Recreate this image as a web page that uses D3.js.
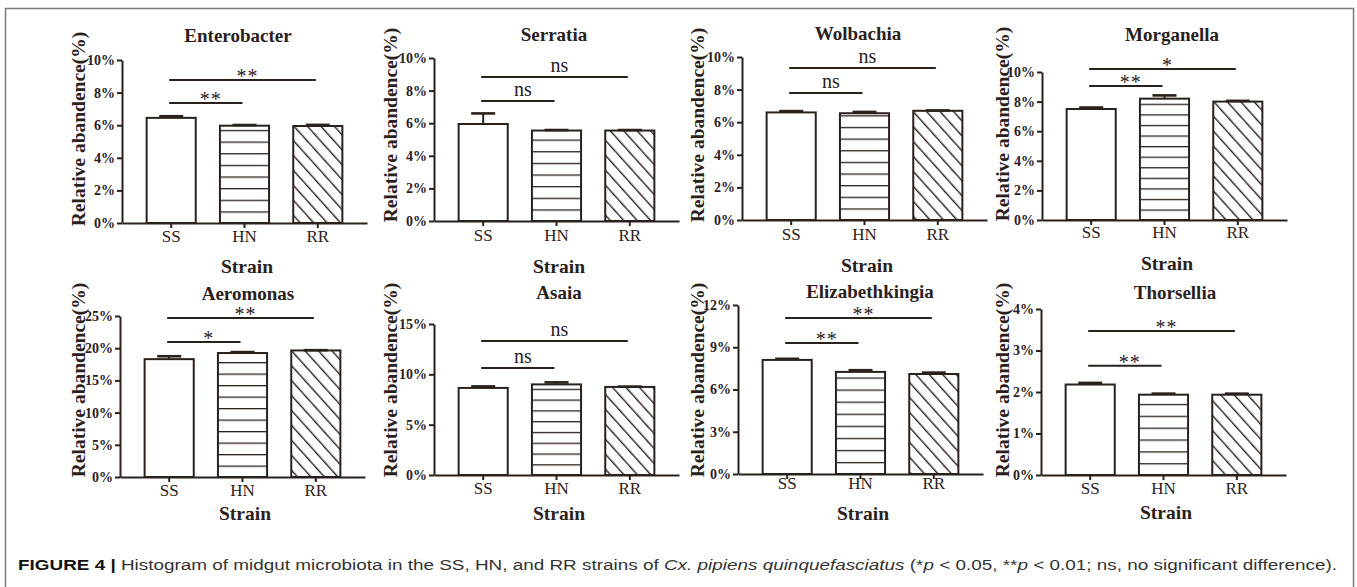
<!DOCTYPE html>
<html>
<head>
<meta charset="utf-8">
<script src="https://cdn.jsdelivr.net/npm/d3@7/dist/d3.min.js"></script>
<style>
  body { margin: 0; background: #fff; }
  svg { display: block; }
</style>
</head>
<body>
<div id="hook"></div>
<script>
// values (relative abundance, %)
var genera = ["Enterobacter", "Serratia", "Wolbachia", "Morganella", "Aeromonas", "Asaia", "Elizabethkingia", "Thorsellia"];
var strains = ["SS", "HN", "RR"];
var meanSS = [6.45, 5.95, 6.6, 7.5, 18.3, 8.65, 8.1, 2.18];
var meanHN = [5.97, 5.55, 6.55, 8.2, 19.25, 9.0, 7.25, 1.935];
var meanRR = [5.95, 5.55, 6.7, 8.0, 19.65, 8.75, 7.1, 1.935];
var errSS = [0.1, 0.65, 0.08, 0.1, 0.45, 0.15, 0.08, 0.04];
var errHN = [0.04, 0.03, 0.08, 0.22, 0.15, 0.2, 0.12, 0.025];
var errRR = [0.07, 0.03, 0.02, 0.05, 0.04, 0.03, 0.1, 0.025];
var yMax = [10, 10, 10, 10, 25, 15, 12, 4];
var yStep = [2, 2, 2, 2, 5, 5, 3, 1];
var sigHN = ["**", "ns", "ns", "**", "*", "ns", "**", "**"];
var sigRR = ["**", "ns", "ns", "*", "**", "ns", "**", "**"];
var sigHNAt = [7.36, 7.36, 7.79, 9.05, 20.96, 10.63, 9.3, 2.63];
var sigRRAt = [8.77, 8.83, 9.33, 10.2, 24.7, 13.3, 11.08, 3.47];

// panel placement
var layout = [
    {ax: 122, top: 60, bot: 223, tx: 238, ty: 42, lx: 78, ly: 129, cy: 242, sy: 273},
    {ax: 434, top: 58, bot: 221, tx: 554, ty: 41, lx: 390, ly: 125, cy: 241, sy: 273},
    {ax: 742, top: 57, bot: 220, tx: 858, ty: 40, lx: 697, ly: 125, cy: 240, sy: 272},
    {ax: 1042, top: 72, bot: 220, tx: 1172, ty: 41, lx: 1002, ly: 124, cy: 238, sy: 270},
    {ax: 120, top: 316, bot: 477, tx: 248, ty: 300, lx: 78, ly: 380, cy: 496, sy: 520},
    {ax: 434, top: 324, bot: 475, tx: 559, ty: 299, lx: 390, ly: 380, cy: 494, sy: 520},
    {ax: 738, top: 305, bot: 474, tx: 870, ty: 298, lx: 697, ly: 380, cy: 489, sy: 520},
    {ax: 1041, top: 309, bot: 475, tx: 1175, ty: 299, lx: 1002, ly: 380, cy: 494, sy: 519}
];

var w = 1357, h = 587;
var ink = "#2a211d";
var serif = "'Liberation Serif', 'Times New Roman', serif";

var svg = d3.select("#hook").append("svg")
    .attr("width", w)
    .attr("height", h);

svg.append("rect")
    .attr("x", 5.5).attr("y", 8.5)
    .attr("width", 1348).attr("height", 600)
    .attr("fill", "#fff")
    .attr("stroke", "#7a7a7a")
    .attr("stroke-width", 1.5);

var defs = svg.append("defs");

genera.forEach(function (g, i) {
    var L = layout[i];
    var vals = [meanSS[i], meanHN[i], meanRR[i]];
    var errs = [errSS[i], errHN[i], errRR[i]];

    var x = d3.scaleBand()
        .domain(strains)
        .range([L.ax, L.ax + 245])
        .paddingInner(0.33)
        .paddingOuter(0.336);
    var y = d3.scaleLinear()
        .domain([0, yMax[i]])
        .range([L.bot, L.top]);

    // hatch patterns, anchored on the baseline
    var hz = defs.append("pattern")
        .attr("id", "hz" + i)
        .attr("patternUnits", "userSpaceOnUse")
        .attr("x", 0).attr("y", L.bot)
        .attr("width", 10).attr("height", (L.bot - L.top) / 14);
    hz.append("rect").attr("width", 10).attr("height", 20).attr("fill", "#fff");
    hz.append("line")
        .attr("x1", 0).attr("x2", 10).attr("y1", 0.6).attr("y2", 0.6)
        .attr("stroke", ink).attr("stroke-width", 1.4);

    var dg = defs.append("pattern")
        .attr("id", "dg" + i)
        .attr("patternUnits", "userSpaceOnUse")
        .attr("x", x("RR")).attr("y", L.bot)
        .attr("width", 10).attr("height", 10)
        .attr("patternTransform", "rotate(-42)");
    dg.append("rect").attr("width", 10).attr("height", 10).attr("fill", "#fff");
    dg.append("line")
        .attr("x1", 0.7).attr("x2", 0.7).attr("y1", 0).attr("y2", 10)
        .attr("stroke", ink).attr("stroke-width", 1.4);

    var fills = ["#fff", "url(#hz" + i + ")", "url(#dg" + i + ")"];
    var p = svg.append("g");

    // bars
    p.selectAll("rect.bar")
        .data(vals)
        .enter()
        .append("rect")
        .attr("class", "bar")
        .attr("x", function (d, j) { return x(strains[j]); })
        .attr("y", function (d) { return y(d); })
        .attr("width", x.bandwidth())
        .attr("height", function (d) { return L.bot - y(d); })
        .attr("fill", function (d, j) { return fills[j]; })
        .attr("stroke", ink)
        .attr("stroke-width", 2);

    // error bars (upper only)
    var eb = p.selectAll("g.err")
        .data(vals)
        .enter()
        .append("g")
        .attr("class", "err");
    eb.append("line")
        .attr("x1", function (d, j) { return x(strains[j]) + x.bandwidth() / 2; })
        .attr("x2", function (d, j) { return x(strains[j]) + x.bandwidth() / 2; })
        .attr("y1", function (d) { return y(d); })
        .attr("y2", function (d, j) { return y(d + errs[j]); })
        .attr("stroke", ink).attr("stroke-width", 2);
    eb.append("line")
        .attr("x1", function (d, j) { return x(strains[j]) + x.bandwidth() / 2 - 12; })
        .attr("x2", function (d, j) { return x(strains[j]) + x.bandwidth() / 2 + 12; })
        .attr("y1", function (d, j) { return y(d + errs[j]); })
        .attr("y2", function (d, j) { return y(d + errs[j]); })
        .attr("stroke", ink).attr("stroke-width", 2.6);

    // axes
    var ya = p.append("g")
        .attr("transform", "translate(" + L.ax + ",0)")
        .call(d3.axisLeft(y)
            .tickValues(d3.range(0, yMax[i] + 0.001, yStep[i]))
            .tickSize(5).tickSizeOuter(0).tickPadding(2)
            .tickFormat(function (d) { return d + "%"; }));
    ya.select(".domain").attr("stroke", ink).attr("stroke-width", 2);
    ya.selectAll(".tick line").attr("stroke", ink).attr("stroke-width", 2);
    ya.selectAll(".tick text")
        .attr("fill", ink)
        .style("font-family", serif)
        .style("font-size", "14px")
        .style("font-weight", "bold");

    var xa = p.append("g")
        .attr("transform", "translate(0," + L.bot + ")")
        .call(d3.axisBottom(x).tickSize(5).tickSizeOuter(0).tickPadding(L.cy - L.bot - 17));
    xa.select(".domain").attr("stroke", ink).attr("stroke-width", 2);
    xa.selectAll(".tick line").attr("stroke", ink).attr("stroke-width", 2);
    xa.selectAll(".tick text")
        .attr("fill", ink)
        .style("font-family", serif)
        .style("font-size", "17px");

    // significance brackets
    var sig = [
        {to: "HN", at: sigHNAt[i], label: sigHN[i]},
        {to: "RR", at: sigRRAt[i], label: sigRR[i]}
    ];
    var half = x.bandwidth() / 2;
    p.selectAll("line.sig")
        .data(sig)
        .enter()
        .append("line")
        .attr("class", "sig")
        .attr("x1", x("SS") + half - 2)
        .attr("x2", function (d) { return x(d.to) + half - 2; })
        .attr("y1", function (d) { return y(d.at); })
        .attr("y2", function (d) { return y(d.at); })
        .attr("stroke", ink).attr("stroke-width", 2);
    p.selectAll("text.sig")
        .data(sig)
        .enter()
        .append("text")
        .attr("class", "sig")
        .attr("x", function (d) { return (x("SS") + x(d.to)) / 2 + half + 3; })
        .attr("y", function (d) { return y(d.at) + (d.label === "ns" ? -5 : 3); })
        .attr("text-anchor", "middle")
        .attr("fill", ink)
        .style("font-family", serif)
        .style("font-size", "20px")
        .style("letter-spacing", function (d) { return d.label === "ns" ? "0px" : "1px"; })
        .text(function (d) { return d.label; });

    // titles
    p.append("text")
        .attr("x", L.tx).attr("y", L.ty)
        .attr("text-anchor", "middle")
        .attr("fill", ink)
        .style("font-family", serif)
        .style("font-size", "19px")
        .style("font-weight", "bold")
        .text(g);
    p.append("text")
        .attr("x", L.ax + 125).attr("y", L.sy)
        .attr("text-anchor", "middle")
        .attr("fill", ink)
        .style("font-family", serif)
        .style("font-size", "19.5px")
        .style("font-weight", "bold")
        .text("Strain");
    p.append("text")
        .attr("transform", "translate(" + (L.lx + 7) + "," + L.ly + ") rotate(-90)")
        .attr("text-anchor", "middle")
        .attr("fill", ink)
        .style("font-family", serif)
        .style("font-size", "19.5px")
        .style("font-weight", "bold")
        .text("Relative abandence(%)");
});

// caption
var cap = svg.append("text")
    .attr("x", 18).attr("y", 570)
    .attr("fill", "#333")
    .attr("textLength", 1319)
    .attr("lengthAdjust", "spacingAndGlyphs")
    .style("font-family", "'Liberation Sans Narrow', 'Liberation Sans', Arial, sans-serif")
    .style("font-size", "15.5px");
cap.append("tspan").style("font-weight", "bold").attr("fill", "#111").text("FIGURE 4 | ");
cap.append("tspan").text("Histogram of midgut microbiota in the SS, HN, and RR strains of ");
cap.append("tspan").style("font-style", "italic").text("Cx. pipiens quinquefasciatus");
cap.append("tspan").text(" (*");
cap.append("tspan").style("font-style", "italic").text("p");
cap.append("tspan").text(" < 0.05, **");
cap.append("tspan").style("font-style", "italic").text("p");
cap.append("tspan").text(" < 0.01; ns, no significant difference).");
</script>
</body>
</html>
